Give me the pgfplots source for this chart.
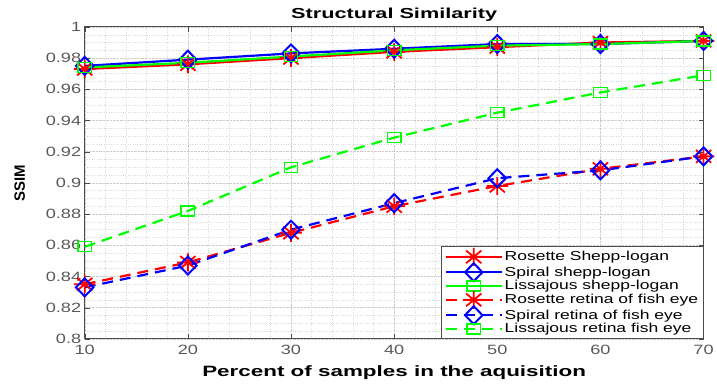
\documentclass[border=0pt]{standalone}
\usepackage{pgfplots}
\pgfplotsset{compat=1.18}
\usepackage{fontspec}
\setmainfont[FakeStretch=1.35]{Liberation Sans}
\newfontfamily\boldwide[FakeStretch=1.5]{Liberation Sans Bold}
\newfontfamily\boldplain{Liberation Sans}
\pgfdeclareplotmark{mstar}{%
  \pgfpathmoveto{\pgfqpoint{-\pgfplotmarksize}{0pt}}\pgfpathlineto{\pgfqpoint{\pgfplotmarksize}{0pt}}%
  \pgfpathmoveto{\pgfqpoint{0pt}{-\pgfplotmarksize}}\pgfpathlineto{\pgfqpoint{0pt}{\pgfplotmarksize}}%
  \pgfpathmoveto{\pgfqpoint{-.7071\pgfplotmarksize}{-.7071\pgfplotmarksize}}\pgfpathlineto{\pgfqpoint{.7071\pgfplotmarksize}{.7071\pgfplotmarksize}}%
  \pgfpathmoveto{\pgfqpoint{-.7071\pgfplotmarksize}{.7071\pgfplotmarksize}}\pgfpathlineto{\pgfqpoint{.7071\pgfplotmarksize}{-.7071\pgfplotmarksize}}%
  \pgfusepathqstroke}
\begin{document}
\begin{tikzpicture}
\begin{axis}[
  scale only axis, width=621pt, height=313pt,
  xmin=10, xmax=70, ymin=0.8, ymax=1,
  xtick={10,20,...,70},
  ytick={0.8,0.82,...,1.0001},
  yticklabel style={/pgf/number format/fixed,/pgf/number format/precision=2},
  /pgf/number format/assume math mode=true,
  minor x tick num=4, minor y tick num=3,
  grid=both,
  major grid style={gray!40, densely dotted},
  minor grid style={gray!30, dotted},
  tick align=inside,
  major tick length=5pt, minor tick length=0pt,
  axis line style={black!70, line width=0.9pt},
  tick style={black!70},
  ticklabel style={font=\fontsize{13.5}{13.5}\selectfont, text=black!65},
  xticklabel style={yshift=-3pt},
  every axis title shift=0pt,
  title={\fontsize{14.5}{14.5}\selectfont\boldwide Structural Similarity},
  title style={at={(axis description cs:0.5,1)}, anchor=base, yshift=8pt},
  xlabel={\fontsize{15}{15}\selectfont\boldwide Percent of samples in the aquisition},
  xlabel style={at={(axis description cs:0.5,0)}, anchor=base, yshift=-38pt},
  ylabel={\boldplain\bfseries\fontsize{15}{15}\selectfont SSIM},
  ylabel style={at={(axis description cs:0,0.5)}, anchor=base, yshift=60pt},
  legend style={at={(1,0)}, anchor=south east, font=\fontsize{13}{13}\selectfont, draw=black!70, line width=0.8pt, inner xsep=3pt, inner ysep=2pt, row sep=-2.6pt, legend cell align=left},
  legend image code/.code={
    \draw[mark repeat=2,mark phase=2] plot coordinates {(0pt,0pt) (28pt,0pt) (56pt,0pt)};
  },
  every axis plot/.append style={line width=2.2pt},
]
\addplot[red, mark=mstar, mark size=9pt, mark options={solid, line width=1.8pt, xscale=1.2}] coordinates {
(10,0.973) (20,0.976) (30,0.980) (40,0.984) (50,0.987) (60,0.990) (70,0.991)};
\addlegendentry{Rosette Shepp-logan}
\addplot[blue, mark=diamond, mark size=9pt, mark options={solid, line width=2pt, xscale=1.3}] coordinates {
(10,0.975) (20,0.979) (30,0.983) (40,0.986) (50,0.989) (60,0.989) (70,0.991)};
\addlegendentry{Spiral shepp-logan}
\addplot[green, mark=square, mark size=5pt, mark options={solid, line width=1.3pt, xscale=1.35}] coordinates {
(10,0.974) (20,0.977) (30,0.981) (40,0.985) (50,0.988) (60,0.989) (70,0.991)};
\addlegendentry{Lissajous shepp-logan}
\addplot[red, dash pattern=on 11pt off 7pt, mark=mstar, mark size=9pt, mark options={solid, line width=1.8pt, xscale=1.2}] coordinates {
(10,0.835) (20,0.849) (30,0.868) (40,0.885) (50,0.898) (60,0.909) (70,0.917)};
\addlegendentry{Rosette retina of fish eye}
\addplot[blue, dash pattern=on 11pt off 7pt, mark=diamond, mark size=9pt, mark options={solid, line width=2pt, xscale=1.3}] coordinates {
(10,0.833) (20,0.847) (30,0.870) (40,0.887) (50,0.903) (60,0.908) (70,0.917)};
\addlegendentry{Spiral retina of fish eye}
\addplot[green, dash pattern=on 11pt off 7pt, mark=square, mark size=5pt, mark options={solid, line width=1.3pt, xscale=1.35}] coordinates {
(10,0.859) (20,0.882) (30,0.910) (40,0.929) (50,0.945) (60,0.958) (70,0.969)};
\addlegendentry{Lissajous retina fish eye}
\end{axis}
\path ([shift={(-85pt,-43pt)}]current axis.south west) rectangle ([shift={(11pt,27pt)}]current axis.north east);
\end{tikzpicture}
\end{document}
